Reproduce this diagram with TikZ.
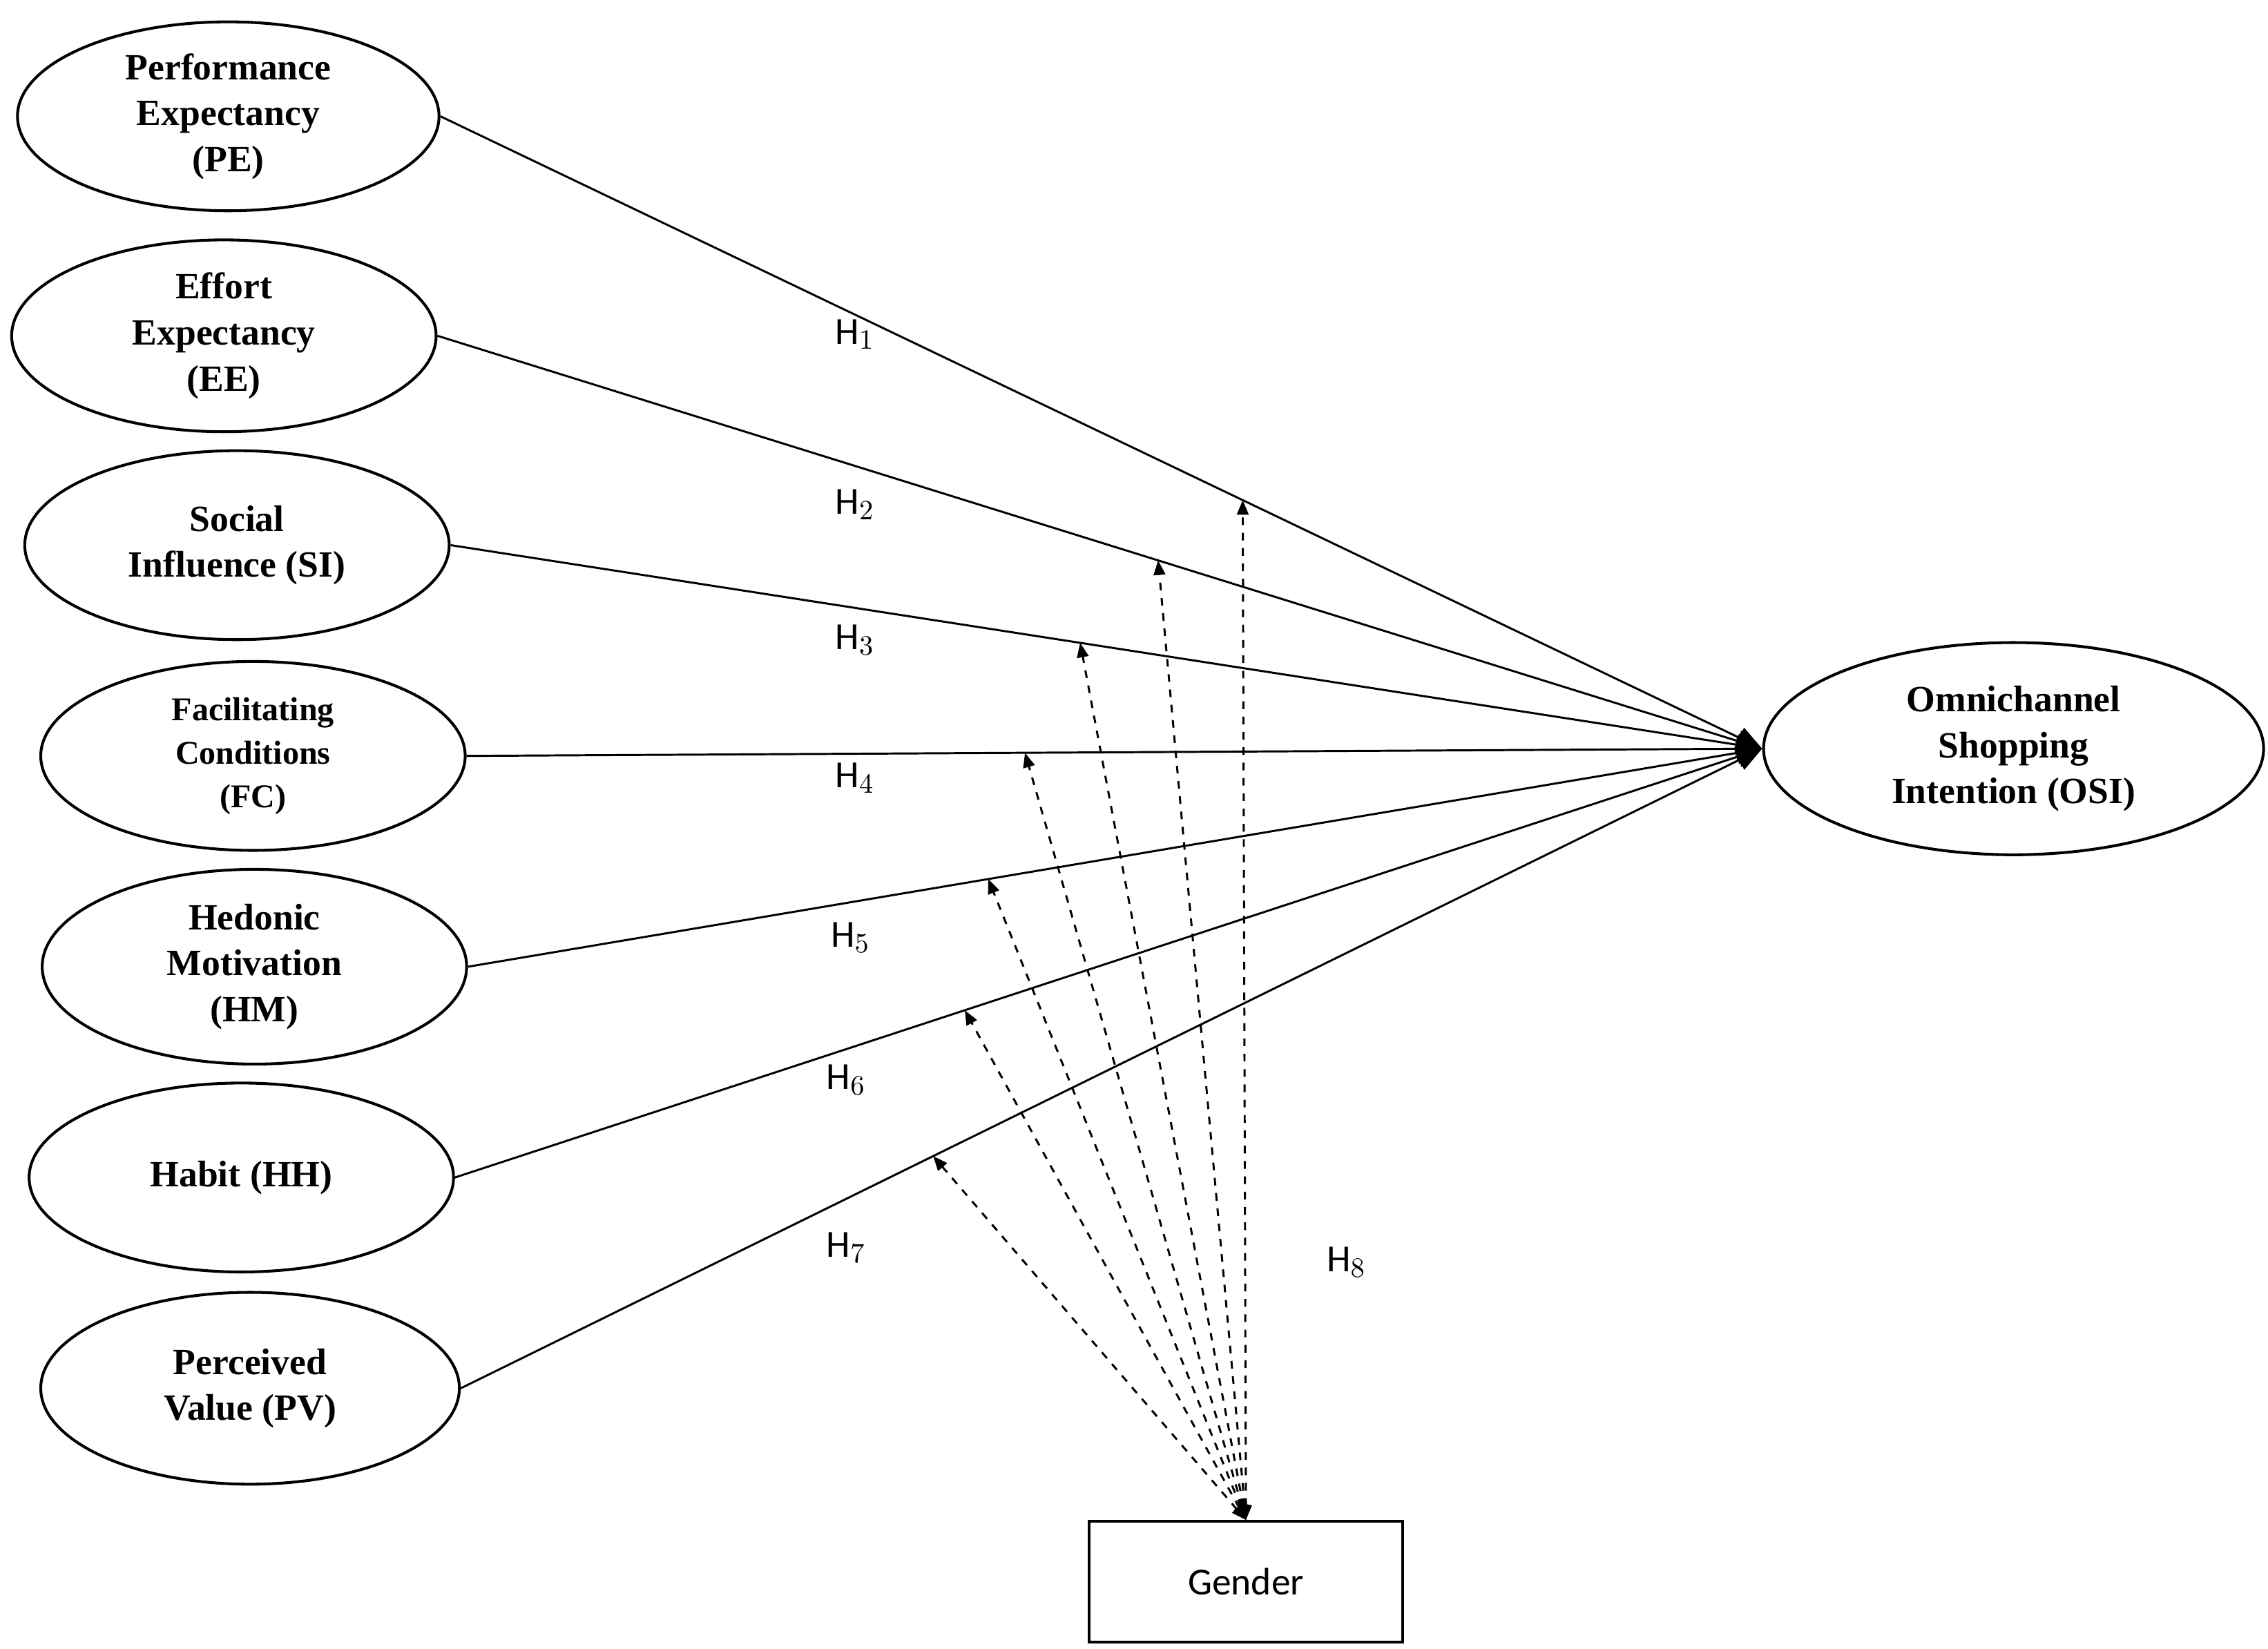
\documentclass[tikz,border=0pt]{standalone}
\usepackage{fontspec}
\setmainfont{Liberation Serif}
\newfontfamily\hfont{Carlito}
\usetikzlibrary{shapes.geometric,arrows.meta}
\begin{document}
\begin{tikzpicture}[
	x=0.02cm, y=-0.02cm,
	construct/.style={ellipse, draw, line width=1.1pt, inner sep=0pt, align=center,
		font=\fontsize{14.5}{18}\selectfont\bfseries},
	box/.style={draw, rectangle, line width=1.1pt, minimum width=4.32cm, minimum height=1.66cm,
		font=\hfont\fontsize{15}{18}\selectfont},
	path/.style={-{Triangle[length=3.5mm,width=3mm]}, line width=0.8pt},
	moderate/.style={{Triangle[length=2mm,width=1.6mm]}-{Triangle[length=2mm,width=1.6mm]}, dashed, line width=0.8pt},
	hyp/.style={font=\hfont\fontsize{15}{18}\selectfont}
	]
	\useasboundingbox (0,0) rectangle (1560,1134);
	
	%-----------------------
	% Constructs
	%-----------------------
	\node[construct, minimum width=5.8cm, minimum height=2.6cm] (PE) at (157,80) {Performance\\Expectancy\\(PE)};
	\node[construct, minimum width=5.84cm, minimum height=2.64cm] (EE) at (154,231) {Effort\\Expectancy\\(EE)};
	\node[construct, minimum width=5.84cm, minimum height=2.6cm] (SI) at (163,375) {Social\\Influence (SI)};
	\node[construct, minimum width=5.84cm, minimum height=2.6cm, font=\fontsize{13}{17}\selectfont\bfseries] (FC) at (174,520) {Facilitating\\Conditions\\(FC)};
	\node[construct, minimum width=5.84cm, minimum height=2.68cm] (HM) at (175,665) {Hedonic\\Motivation\\(HM)};
	\node[construct, minimum width=5.84cm, minimum height=2.6cm] (HH) at (166,810) {Habit (HH)};
	\node[construct, minimum width=5.76cm, minimum height=2.64cm] (PV) at (172,955) {Perceived\\Value (PV)};
	\node[construct, minimum width=6.88cm, minimum height=2.92cm] (OSI) at (1385,515) {Omnichannel\\Shopping\\Intention (OSI)};
	\node[box] (G) at (857,1088) {Gender};
	
	%-----------------------
	% Direct paths
	%-----------------------
	\draw[path] (PE.east) -- coordinate[pos=0.607] (m1) (OSI.west);
	\draw[path] (EE.east) -- coordinate[pos=0.544] (m2) (OSI.west);
	\draw[path] (SI.east) -- coordinate[pos=0.48] (m3) (OSI.west);
	\draw[path] (FC.east) -- coordinate[pos=0.431] (m4) (OSI.west);
	\draw[path] (HM.east) -- coordinate[pos=0.402] (m5) (OSI.west);
	\draw[path] (HH.east) -- coordinate[pos=0.39] (m6) (OSI.west);
	\draw[path] (PV.east) -- coordinate[pos=0.363] (m7) (OSI.west);
	
	%-----------------------
	% Moderation by gender
	%-----------------------
	\foreach \i in {1,...,7}
		\draw[moderate] (G.north) -- (m\i);
	
	%-----------------------
	% Hypothesis labels
	%-----------------------
	\node[hyp] (h1) at (588,230) {H$_1$};
	\node[hyp] (h2) at (588,347) {H$_2$};
	\node[hyp] (h3) at (588,440) {H$_3$};
	\node[hyp] (h4) at (588,535) {H$_4$};
	\node[hyp] (h5) at (585,645) {H$_5$};
	\node[hyp] (h6) at (582,743) {H$_6$};
	\node[hyp] (h7) at (582,858) {H$_7$};
	\node[hyp] (h8) at (926,868) {H$_8$};
	
\end{tikzpicture}
\end{document}
